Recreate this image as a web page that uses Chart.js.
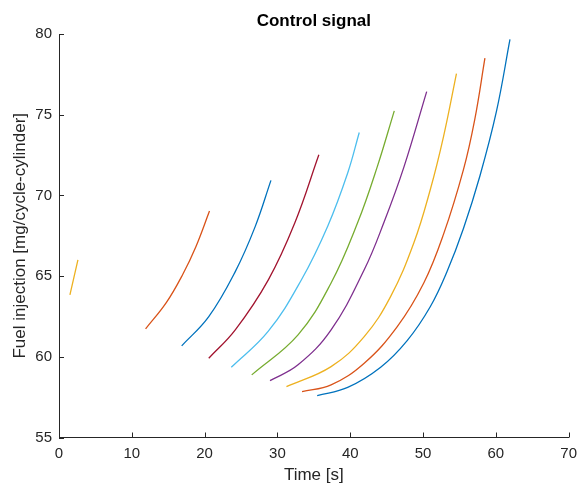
<!DOCTYPE html>
<html lang="en">
  <head>
    <meta charset="UTF-8" />
    <title>Control signal</title>
    <script src="https://cdn.jsdelivr.net/npm/chart.js@4.4.1/dist/chart.umd.min.js"></script>
    <style>
      html, body { margin: 0; padding: 0; background: #fff; }
      #wrap { width: 584px; height: 492px; }
    </style>
  </head>
  <body>
    <div id="wrap"><canvas id="fuelChart"></canvas></div>

    <script>
      // time [s] and fuel injection [mg/cycle-cylinder] for each run
      const time1 = [1.5, 2.6];
      const fuel1 = [63.84, 66.01];
      const time2 = [11.89, 14.71, 16.99, 18.8, 20.67];
      const fuel2 = [61.73, 63.34, 65.1, 66.82, 69.03];
      const time3 = [16.85, 20.57, 24.21, 26.93, 29.11];
      const fuel3 = [60.68, 62.49, 65.28, 68.05, 70.93];
      const time4 = [20.57, 24.21, 28.75, 32.38, 35.69];
      const fuel4 = [59.91, 61.67, 64.77, 68.29, 72.52];
      const time5 = [23.66, 28.75, 33.28, 36.92, 39.65, 41.24];
      const fuel5 = [59.35, 61.59, 64.76, 68.11, 71.39, 73.9];
      const time6 = [26.47, 32.83, 37.37, 41.01, 43.73, 46.05];
      const fuel6 = [58.88, 61.36, 64.57, 68.3, 71.8, 75.24];
      const time7 = [28.98, 32.83, 37.37, 41.92, 44.65, 47.37, 50.5];
      const fuel7 = [58.52, 59.5, 61.67, 65.39, 68.35, 71.75, 76.43];
      const time8 = [31.24, 37.37, 41.92, 45.54, 48.73, 50.99, 52.82, 54.59];
      const fuel8 = [58.15, 59.39, 61.25, 63.73, 67.05, 70.35, 73.66, 77.55];
      const time9 = [33.38, 37.37, 41.92, 46.46, 50.1, 52.82, 55.55, 57.1, 58.5];
      const fuel9 = [57.84, 58.26, 59.6, 61.87, 64.57, 67.6, 71.6, 74.7, 78.5];
      const time10 = [35.46, 39.65, 44.18, 47.82, 50.99, 53.27, 55.55, 57.81, 60.08, 61.94];
      const fuel10 = [57.59, 58.1, 59.35, 61.0, 63.1, 65.25, 67.95, 71.2, 75.2, 79.66];

      const xTicks = [0, 10, 20, 30, 40, 50, 60, 70];
      const yTicks = [55, 60, 65, 70, 75, 80];

      const runTimes = [time1, time2, time3, time4, time5, time6, time7, time8, time9, time10];
      const runFuels = [fuel1, fuel2, fuel3, fuel4, fuel5, fuel6, fuel7, fuel8, fuel9, fuel10];
      const lineColors = [
        "#EDB120", "#D95319", "#0072BD", "#A2142F", "#4DBEEE",
        "#77AC30", "#7E2F8E", "#EDB120", "#D95319", "#0072BD",
      ];

      const datasets = runTimes.map(function (ts, i) {
        return {
          label: "run " + (i + 1),
          data: ts.map(function (t, j) { return { x: t, y: runFuels[i][j] }; }),
          borderColor: lineColors[i],
          borderWidth: 1.3,
          pointRadius: 0,
          fill: false,
          tension: 0.4,
        };
      });

      const axisColor = "#262626";
      const fontFamily = "'Liberation Sans', Arial, Helvetica, sans-serif";

      // MATLAB-style ticks pointing into the plot, title centred over the axes
      const matlabLook = {
        id: "matlabLook",
        afterDraw(chart) {
          const ctx = chart.ctx;
          const xs = chart.scales.x;
          const ys = chart.scales.y;
          const area = chart.chartArea;
          ctx.save();
          ctx.strokeStyle = axisColor;
          ctx.lineWidth = 1;
          ctx.beginPath();
          xTicks.forEach(function (v) {
            const px = Math.round(xs.getPixelForValue(v)) + 0.5;
            ctx.moveTo(px, area.bottom);
            ctx.lineTo(px, area.bottom - 5);
          });
          yTicks.forEach(function (v) {
            const py = Math.round(ys.getPixelForValue(v)) + 0.5;
            ctx.moveTo(area.left, py);
            ctx.lineTo(area.left + 5, py);
          });
          ctx.stroke();

          ctx.fillStyle = "#000";
          ctx.font = "bold 17px " + fontFamily;
          ctx.textAlign = "center";
          ctx.textBaseline = "alphabetic";
          ctx.fillText("Control signal", (area.left + area.right) / 2, 26);
          ctx.restore();
        },
      };

      const config = {
        type: "line",
        data: { datasets: datasets },
        options: {
          responsive: false,
          animation: false,
          layout: { padding: { left: 0, right: 11, top: 34, bottom: 0 } },
          plugins: {
            legend: { display: false },
            tooltip: { enabled: false },
            title: { display: false },
          },
          scales: {
            x: {
              type: "linear",
              min: 0,
              max: 70,
              afterFit(scale) { scale.height = 54.5; },
              afterBuildTicks(scale) { scale.ticks = xTicks.map(function (v) { return { value: v }; }); },
              grid: { display: true, drawOnChartArea: false, drawTicks: false },
              border: { display: true, color: axisColor, width: 1 },
              ticks: { color: axisColor, padding: 7, maxRotation: 0, font: { family: fontFamily, size: 15 } },
              title: {
                display: true,
                text: "Time [s]",
                color: axisColor,
                font: { family: fontFamily, size: 17 },
                padding: { top: 0, bottom: 6 },
              },
            },
            y: {
              type: "linear",
              min: 55,
              max: 80,
              afterFit(scale) { scale.width = 59; },
              afterBuildTicks(scale) { scale.ticks = yTicks.map(function (v) { return { value: v }; }); },
              grid: { display: true, drawOnChartArea: false, drawTicks: false },
              border: { display: true, color: axisColor, width: 1 },
              ticks: { color: axisColor, padding: 7, font: { family: fontFamily, size: 15 } },
              title: {
                display: true,
                text: "Fuel injection [mg/cycle-cylinder]",
                color: axisColor,
                font: { family: fontFamily, size: 17 },
                padding: { top: 10, bottom: 0 },
              },
            },
          },
        },
        plugins: [matlabLook],
      };

      const canvas = document.getElementById("fuelChart");
      canvas.width = 584;
      canvas.height = 492;
      const fuelChart = new Chart(canvas, config);
    </script>
  </body>
</html>
